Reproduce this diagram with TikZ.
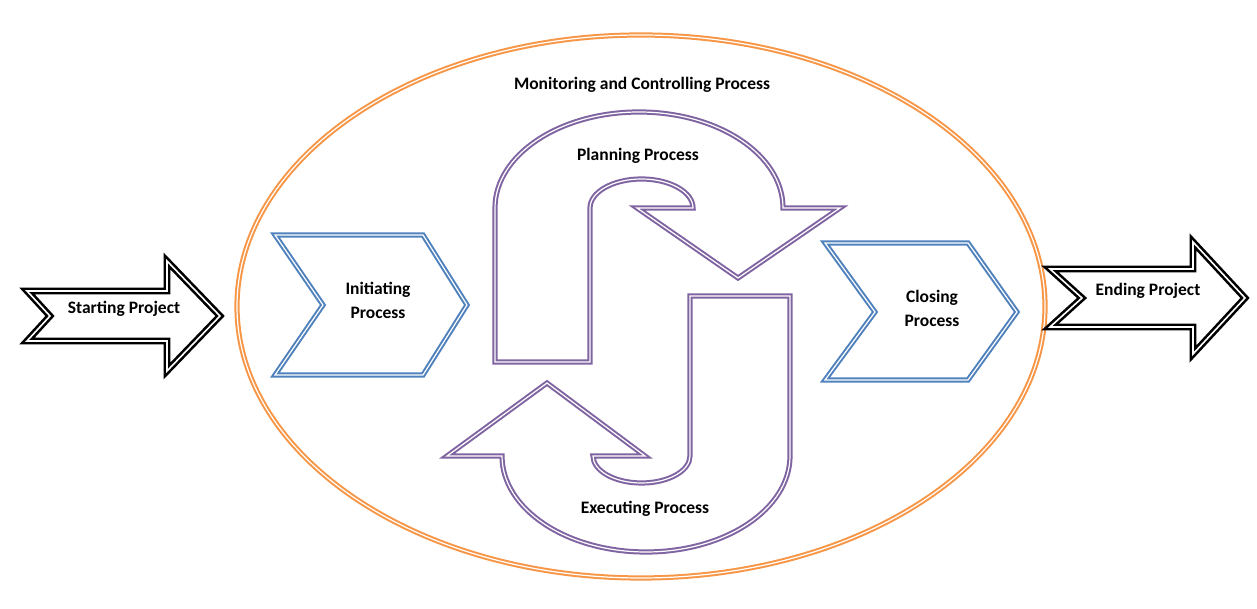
\documentclass[tikz,border=0pt]{standalone}
\usepackage{fontspec}
\setmainfont{Carlito}
\definecolor{procblue}{HTML}{4F81BD}
\definecolor{procpurple}{HTML}{8064A2}
\definecolor{monorange}{HTML}{F79646}
\begin{document}
\begin{tikzpicture}[x=1pt,y=1pt,
    lbl/.style={font=\fontsize{17.5}{24}\selectfont\bfseries,align=center},
    rim/.style={draw=#1,line width=2pt,double=white,double distance=1.2pt,line join=miter},
    blackrim/.style={draw=black,line width=2.6pt,double=white,double distance=1.6pt,line join=miter}]
    \useasboundingbox (0,0) rectangle (1257,609);
    % monitoring ellipse
    \draw[rim=monorange] (641,302.5) ellipse [x radius=404,y radius=271.5];
    \node[lbl] (monitor) at (642,524) {Monitoring and Controlling Process};
    % start / end arrows
    \draw[blackrim] (27,318)--(167,318)--(167,348)--(220,293)--(167,238)--(167,268)--(27,268)--(50,293)--cycle;
    \node[lbl] (start) at (124,300) {Starting Project};
    \draw[blackrim] (1050,340)--(1193,340)--(1193,367)--(1245,311)--(1193,255)--(1193,282)--(1050,282)--(1082,311)--cycle;
    \node[lbl] (finish) at (1148,318) {Ending Project};
    % chevrons
    \draw[rim=procblue] (275,374)--(423,374)--(467,304)--(423,234)--(275,234)--(323,304)--cycle;
    \node[lbl] (init) at (378,309) {Initiating\\Process};
    \draw[rim=procblue] (825,366)--(968,366)--(1017,297)--(968,229)--(825,229)--(875,297)--cycle;
    \node[lbl] (close) at (932,301) {Closing\\Process};
    % planning u-turn
    \draw[rim=procpurple] (495,247)--(495,401) arc[start angle=180,end angle=0,x radius=144,y radius=96]
        --(840,401)--(738,331)--(637,401)--(693,401)
        arc[start angle=0,end angle=180,x radius=51.5,y radius=29]--(590,247)--cycle;
    \node[lbl] (plan) at (638,453) {Planning Process};
    % executing u-turn
    \draw[rim=procpurple] (690,313)--(790,313)--(790,153) arc[start angle=0,end angle=-180,x radius=144,y radius=96]
        --(447,153)--(547,226)--(645,153)--(593,153)
        arc[start angle=180,end angle=360,x radius=48.5,y radius=27]--cycle;
    \node[lbl] (exec) at (645,100) {Executing Process};
\end{tikzpicture}
\end{document}
